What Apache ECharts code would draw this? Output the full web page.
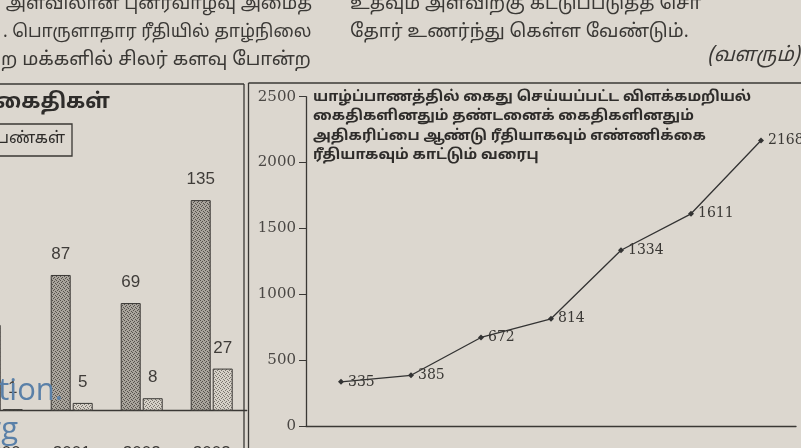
<!DOCTYPE html>
<html><head><meta charset="utf-8">
<script src="https://cdn.jsdelivr.net/npm/echarts@6/dist/echarts.min.js"></script>
<style>html,body{margin:0;padding:0;background:#dcd7cf}#c{width:801px;height:448px}</style>
</head><body><div id="c"></div>
<script>
// ---- data ----
const lineCategories = ['1', '2', '3', '4', '5', '6', '7'];
const prisonerCounts = [335, 385, 672, 814, 1334, 1611, 2168];
const lineYTicks = [0, 500, 1000, 1500, 2000, 2500];

const barYears = ['2000', '2001', '2002', '2003'];
const remandWomen = [55, 87, 69, 135];
const convictedWomen = [1, 5, 8, 27];

const lineTitle = [
  'யாழ்ப்பாணத்தில் கைது செய்யப்பட்ட விளக்கமறியல்',
  'கைதிகளினதும் தண்டனைக் கைதிகளினதும்',
  'அதிகரிப்பை ஆண்டு ரீதியாகவும் எண்ணிக்கை',
  'ரீதியாகவும் காட்டும் வரைபு'
];
const leftColumn = [
  'அளவிலான புனர்வாழ்வு அமைத',
  '. பொருளாதார ரீதியில் தாழ்நிலை',
  'ற மக்களில் சிலர் களவு போன்ற'
];
const rightColumn = ['உதவும் அளவிற்கு கட்டுப்படுத்த சொ', 'தோர் உணர்ந்து கெள்ள வேண்டும்.', '(வளரும்)'];

// ---- styles ----
const TAMIL = "'Noto Sans Tamil','Lohit Tamil','Latha',sans-serif";
const SERIF = "'DejaVu Serif',serif";
const SANS = "'Liberation Sans',Arial,sans-serif";
function pattern(base, dot) {
  const c = document.createElement('canvas');
  c.width = 4; c.height = 4;
  const g = c.getContext('2d');
  g.fillStyle = base; g.fillRect(0, 0, 4, 4);
  g.fillStyle = dot;
  g.fillRect(0, 0, 1, 1); g.fillRect(2, 1, 1, 1); g.fillRect(1, 2, 1, 1); g.fillRect(3, 3, 1, 1);
  return { image: c, repeat: 'repeat' };
}

const chart = echarts.init(document.getElementById('c'), null, { renderer: 'canvas' });

const graphics = [];
function txt(text, x, y, font, fill, align) {
  graphics.push({ type: 'text', z: 10, style: { text, x, y, font, fill, textAlign: align || 'left', textVerticalAlign: 'middle' } });
}
function ln(x1, y1, x2, y2, w) {
  graphics.push({ type: 'line', z: 5, shape: { x1, y1, x2, y2 }, style: { stroke: '#3a3835', lineWidth: w || 1.3 } });
}
// frames
ln(0, 84, 244, 84); ln(244, 84, 244, 448);
ln(248.5, 83, 801, 83); ln(248.5, 83, 248.5, 448);
// article text
txt(leftColumn[0], 312, 5, "18px " + TAMIL, '#3a3835', 'right');
txt(leftColumn[1], 3, 33, "17.5px " + TAMIL, '#3a3835', 'left');
txt(leftColumn[2], 1, 61, "18.8px " + TAMIL, '#3a3835', 'left');
txt(rightColumn[0], 350, 5, "18.5px " + TAMIL, '#3a3835', 'left');
txt(rightColumn[1], 350, 33, "18.6px " + TAMIL, '#3a3835', 'left');
txt(rightColumn[2], 800, 57, "italic 20px " + TAMIL, '#3a3835', 'right');
// chart title in line chart
lineTitle.forEach((t, i) => txt(t, 313, 98 + i * 19.4, "bold 14.6px " + TAMIL, '#2e2c2a', 'left'));
// bar chart title / legend box
txt('கைதிகள்', 110, 104, "bold 21px " + TAMIL, '#2e2c2a', 'right');
graphics.push({ type: 'rect', z: 5, shape: { x: -10, y: 124, width: 82, height: 32 }, style: { fill: 'none', stroke: '#3a3835', lineWidth: 1.3 } });
txt('பெண்கள்', 65, 140, "16px " + TAMIL, '#2e2c2a', 'right');
// watermark
txt('ation.', 63, 391, "31px 'Open Sans',sans-serif", '#5a80a8', 'right');
txt('noolaham.org', 18, 430, "31px 'Open Sans',sans-serif", '#5a80a8', 'right');

chart.setOption({
  backgroundColor: '#dcd7cf',
  animation: false,
  grid: [
    { left: -33.3, top: 176.7, width: 280, height: 234, containLabel: false, outerBoundsMode: 'none' },
    { left: 306, top: 96.7, width: 490, height: 329.3, containLabel: false, outerBoundsMode: 'none' }
  ],
  xAxis: [
    { gridIndex: 0, type: 'category', data: barYears,
      axisLine: { lineStyle: { color: '#3a3835', width: 1.3 } },
      axisTick: { length: 5, lineStyle: { color: '#3a3835' } },
      axisLabel: { margin: 34, fontSize: 17, color: '#3a3835', fontFamily: SANS } },
    { gridIndex: 1, type: 'category', data: lineCategories,
      axisLine: { lineStyle: { color: '#3a3835', width: 1.3 } },
      axisTick: { length: 5, lineStyle: { color: '#3a3835' } },
      axisLabel: { show: false } }
  ],
  yAxis: [
    { gridIndex: 0, type: 'value', min: 0, max: 150, show: false },
    { gridIndex: 1, type: 'value', min: 0, max: 2500, interval: 500,
      axisLine: { show: true, lineStyle: { color: '#3a3835', width: 1.3 } },
      axisTick: { show: true, length: 7, lineStyle: { color: '#3a3835' } },
      splitLine: { show: false },
      axisLabel: { margin: 10, fontSize: 15, color: '#4a4744', fontFamily: SERIF,
        formatter: v => lineYTicks.includes(v) ? String(v) : '' } }
  ],
  series: [
    { type: 'bar', xAxisIndex: 0, yAxisIndex: 0, data: remandWomen, barWidth: 20, barGap: '10%',
      itemStyle: { color: pattern('#aaa59d', '#55514c'), borderColor: '#3a3835', borderWidth: 1 },
      label: { show: true, position: 'top', distance: 12, fontSize: 17, color: '#3f3c39', fontFamily: SANS } },
    { type: 'bar', xAxisIndex: 0, yAxisIndex: 0, data: convictedWomen, barWidth: 20,
      itemStyle: { color: pattern('#d6d1c8', '#7a756e'), borderColor: '#3a3835', borderWidth: 1 },
      label: { show: true, position: 'top', distance: 12, fontSize: 17, color: '#3f3c39', fontFamily: SANS } },
    { type: 'line', xAxisIndex: 1, yAxisIndex: 1, data: prisonerCounts,
      symbol: 'diamond', symbolSize: 6, lineStyle: { color: '#333', width: 1.3 },
      itemStyle: { color: '#333' },
      label: { show: true, position: 'right', distance: 4, fontSize: 14, color: '#3a3835', fontFamily: SERIF } }
  ],
  graphic: graphics
});
</script></body></html>
